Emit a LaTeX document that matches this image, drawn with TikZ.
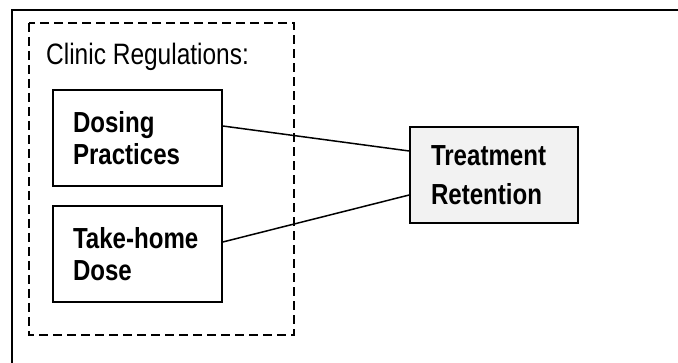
\documentclass[tikz,border=0pt]{standalone}
\usepackage{fontspec}
\setmainfont{Liberation Sans}[FakeStretch=0.83]
\usetikzlibrary{positioning}
\definecolor{retfill}{HTML}{F2F2F2}
\tikzset{
    factor/.style={draw=black,line width=1.6pt,minimum width=169pt,minimum height=96pt,
        inner xsep=20pt,text width=129pt,align=left,
        font=\fontsize{29}{31.7}\selectfont\bfseries},
    outcome/.style={factor,fill=retfill,minimum width=168pt,inner xsep=21pt,text width=126pt,
        font=\fontsize{29}{39}\selectfont\bfseries},
    link/.style={line width=1.5pt},
    group/.style={line width=1.5pt,dash pattern=on 9pt off 5pt}
}
\begin{document}
\begin{tikzpicture}[x=1pt,y=-1pt]
    \useasboundingbox (0,0) rectangle (678,363);
    \draw[line width=2pt] (12,363) -- (12,10) -- (678,10);
    %
    \draw[group] (29,23) rectangle (294,335);
    \node[anchor=base west,inner sep=0pt,font=\fontsize{29.5}{32}\selectfont] (regs) at (46,65) {Clinic Regulations:};
    %
    \node[factor] (dosing) at (137.5,138) {Dosing\\Practices};
    \node[factor] (takehome) at (137.5,254) {Take-home\\Dose};
    %
    \node[outcome] (retention) at (494,175) {Treatment\\Retention};
    %
    \draw[link] ([yshift=12pt]dosing.east) -- ([yshift=24pt]retention.west);
    \draw[link] ([yshift=12pt]takehome.east) -- ([yshift=-20pt]retention.west);
\end{tikzpicture}
\end{document}
